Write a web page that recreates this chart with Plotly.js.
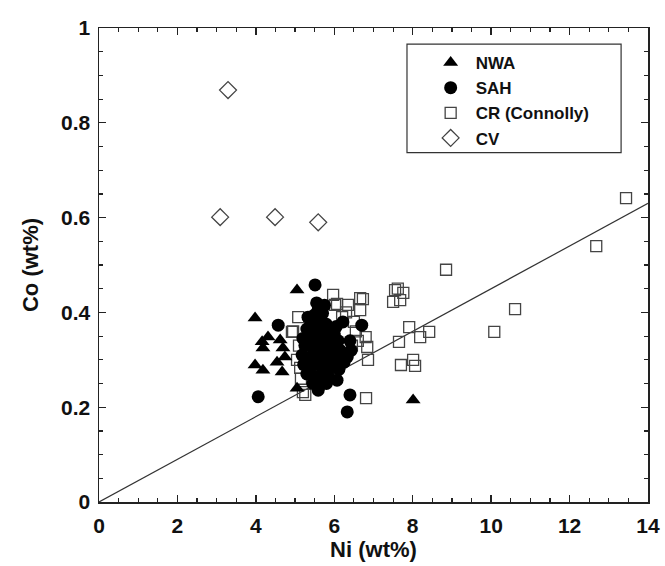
<!DOCTYPE html>
<html>
<head>
<meta charset="utf-8">
<script src="https://cdn.plot.ly/plotly-3.0.1.min.js"></script>
<style>html,body{margin:0;padding:0;background:#fff;}</style>
</head>
<body>
<div id="chart" style="width:665px;height:566px;"></div>
<script>
// NWA (triangles)
const nwaNi = [3.98, 4.31, 4.16, 4.18, 4.62, 4.69, 3.98, 4.18, 4.54, 4.67, 5.05, 5.05, 8.01, 4.74, 5.25, 5.35];
const nwaCo = [0.388, 0.348, 0.338, 0.325, 0.342, 0.325, 0.289, 0.278, 0.295, 0.274, 0.240, 0.447, 0.215, 0.306, 0.300, 0.330];

// SAH (filled circles)
const sahNi = [5.51, 4.57, 4.06, 6.40, 6.33, 6.70, 6.22,
  5.59, 5.50, 5.70, 5.40, 5.62, 5.80, 5.30, 5.48, 5.65, 5.85, 6.00, 5.20, 5.38, 5.55, 5.72, 5.90, 6.10,
  5.25, 5.45, 5.60, 5.78, 5.95, 6.15, 6.33, 5.18, 5.35, 5.52, 5.70, 5.88, 6.05, 6.25, 5.22, 5.40, 5.58,
  5.75, 5.92, 6.12, 5.30, 5.50, 5.68, 5.85, 6.07, 5.45, 5.62, 5.80, 5.59, 6.43, 6.40, 5.55, 5.75, 6.05, 5.33];
const sahCo = [0.458, 0.373, 0.222, 0.226, 0.190, 0.373, 0.380,
  0.405, 0.395, 0.398, 0.380, 0.385, 0.375, 0.365, 0.360, 0.365, 0.360, 0.355, 0.345, 0.345, 0.345, 0.350, 0.345, 0.340,
  0.330, 0.325, 0.330, 0.330, 0.325, 0.320, 0.306, 0.310, 0.305, 0.310, 0.310, 0.305, 0.300, 0.295, 0.290, 0.285, 0.290,
  0.290, 0.285, 0.280, 0.270, 0.265, 0.270, 0.265, 0.257, 0.250, 0.245, 0.250, 0.236, 0.320, 0.340, 0.420, 0.415, 0.370, 0.390];

// CR (Connolly) (open squares)
const crNi = [13.44, 12.68, 8.85, 10.61, 10.08, 7.55, 7.76, 7.50, 7.68, 7.62, 7.91, 8.42, 8.19, 7.65, 7.70, 8.01, 8.06,
  5.97, 6.66, 6.02, 6.35, 6.66, 6.07, 6.73, 4.92, 6.80, 6.84, 5.13, 5.20, 6.81, 5.08, 6.86, 5.26, 4.95,
  6.50, 6.55, 6.45, 6.60, 5.10, 5.05, 5.15, 6.30, 6.20];
const crCo = [0.641, 0.540, 0.490, 0.407, 0.359, 0.447, 0.441, 0.422, 0.426, 0.450, 0.369, 0.359, 0.348, 0.338, 0.289, 0.300, 0.287,
  0.437, 0.430, 0.416, 0.416, 0.405, 0.418, 0.428, 0.359, 0.348, 0.327, 0.283, 0.232, 0.219, 0.390, 0.300, 0.226, 0.360,
  0.380, 0.360, 0.330, 0.340, 0.330, 0.300, 0.260, 0.400, 0.390];

// CV (open diamonds)
const cvNi = [3.29, 3.09, 4.49, 5.59];
const cvCo = [0.869, 0.601, 0.601, 0.590];

// Regression line
const fitNi = [0, 14];
const fitCo = [0.0, 0.63];

// Tick labels
const xTickVals = [0, 2, 4, 6, 8, 10, 12, 14];
const xTickText = ['0', '2', '4', '6', '8', '10', '12', '14'];
const yTickVals = [0, 0.2, 0.4, 0.6, 0.8, 1];
const yTickText = ['0', '0.2', '0.4', '0.6', '0.8', '1'];

const fam = 'Liberation Sans, Arial, sans-serif';
const tickFont = {family: fam, size: 21, color: '#111'};
const titleFont = {family: fam, size: 22, color: '#111', weight: 'bold'};
const bold = a => a.map(t => '<b>' + t + '</b>');

const traces = [
  {x: fitNi, y: fitCo, mode: 'lines', line: {color: '#333', width: 1.2}, showlegend: false, hoverinfo: 'skip'},
  {x: crNi, y: crCo, mode: 'markers', name: '<b>CR (Connolly)</b>', legendrank: 3,
   marker: {symbol: 'square-open', size: 11, color: '#444', line: {width: 1.3}}},
  {x: cvNi, y: cvCo, mode: 'markers', name: '<b>CV</b>', legendrank: 4,
   marker: {symbol: 'diamond-open', size: 13, color: '#444', line: {width: 1.3}}},
  {x: nwaNi, y: nwaCo, mode: 'markers', name: '<b>NWA</b>', legendrank: 1,
   marker: {symbol: 'triangle-up', size: 13, color: '#000'}},
  {x: sahNi, y: sahCo, mode: 'markers', name: '<b>SAH</b>', legendrank: 2,
   marker: {symbol: 'circle', size: 13, color: '#000'}}
];

const layout = {
  width: 665, height: 566,
  margin: {l: 99, r: 17, t: 28, b: 64},
  paper_bgcolor: '#fff', plot_bgcolor: '#fff',
  showlegend: true,
  legend: {x: 0.595, y: 0.964, xanchor: 'left', yanchor: 'top', bgcolor: 'rgba(0,0,0,0)', borderwidth: 0,
           traceorder: 'normal', itemwidth: 40, tracegroupgap: 0,
           font: {family: fam, size: 17, color: '#111'}},
  shapes: [{type: 'rect', xref: 'paper', yref: 'paper', x0: 0.561, x1: 0.951, y0: 0.737, y1: 0.966,
            line: {color: '#333', width: 1.2}, fillcolor: 'rgba(0,0,0,0)'}],
  xaxis: {
    range: [0, 14], tickvals: xTickVals, ticktext: bold(xTickText), ticks: 'inside', ticklen: 7, tickwidth: 1.3, tickcolor: '#222',
    showline: true, linecolor: '#222', linewidth: 1.5, mirror: 'allticks', showgrid: false, zeroline: false,
    tickfont: tickFont, ticklabelstandoff: 4,
    minor: {dtick: 0.5, tick0: 0, ticks: 'inside', ticklen: 4, tickwidth: 1.2, tickcolor: '#222', showgrid: false},
    title: {text: 'Ni (wt%)', font: titleFont, standoff: 6}
  },
  yaxis: {
    range: [0, 1], tickvals: yTickVals, ticktext: bold(yTickText), ticks: 'inside', ticklen: 7, tickwidth: 1.3, tickcolor: '#222',
    showline: true, linecolor: '#222', linewidth: 1.5, mirror: 'allticks', showgrid: false, zeroline: false,
    tickfont: tickFont, ticklabelstandoff: 3,
    minor: {dtick: 0.05, tick0: 0, ticks: 'inside', ticklen: 4, tickwidth: 1.2, tickcolor: '#222', showgrid: false},
    title: {text: 'Co (wt%)', font: titleFont, standoff: 16}
  }
};

Plotly.newPlot('chart', traces, layout, {displayModeBar: false, staticPlot: true});
</script>
</body>
</html>
